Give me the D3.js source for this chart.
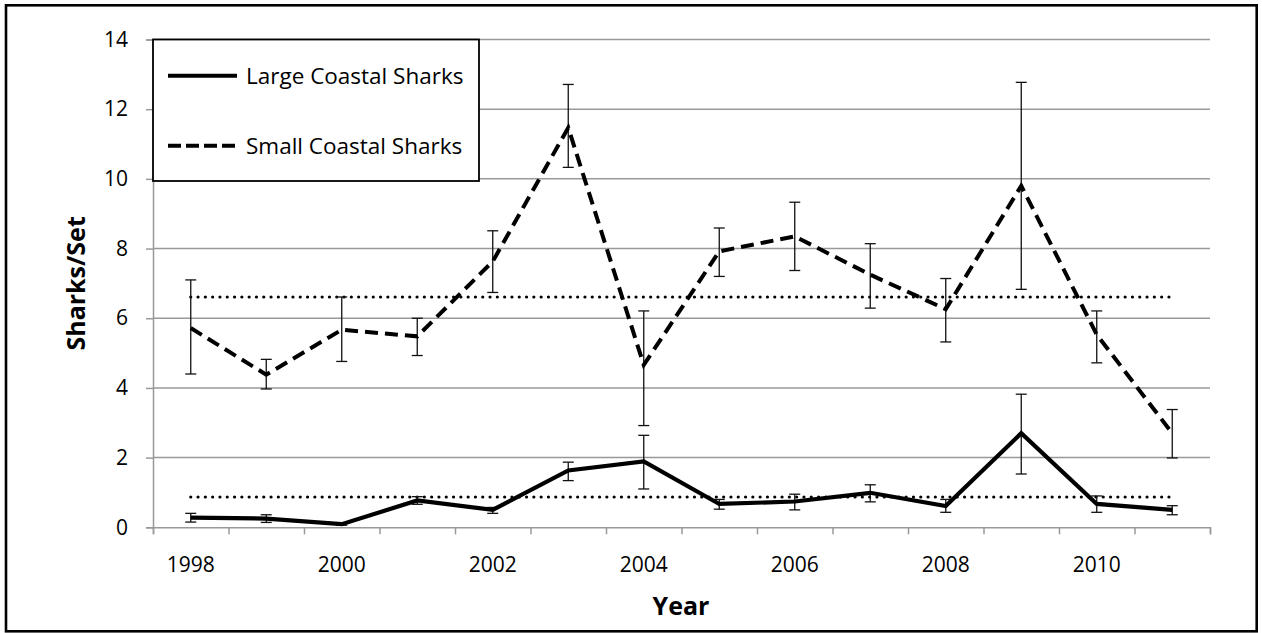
<!DOCTYPE html>
<html>
<head>
<meta charset="utf-8">
<script src="https://cdn.jsdelivr.net/npm/d3@7"></script>
<style>
  body { margin: 0; background: #fff; }
  text { font-family: "Open Sans", sans-serif; fill: #000; }
</style>
</head>
<body>
<div id="chart"></div>
<script>
// values
var years = [1998, 1999, 2000, 2001, 2002, 2003, 2004, 2005, 2006, 2007, 2008, 2009, 2010, 2011];
var largeMean = [0.28, 0.25, 0.09, 0.77, 0.50, 1.63, 1.89, 0.67, 0.74, 0.99, 0.61, 2.70, 0.67, 0.50];
var largeHi   = [0.40, 0.36, 0.12, 0.88, 0.57, 1.87, 2.64, 0.80, 0.95, 1.22, 0.80, 3.82, 0.90, 0.62];
var largeLo   = [0.15, 0.14, 0.06, 0.66, 0.40, 1.34, 1.10, 0.52, 0.50, 0.73, 0.43, 1.53, 0.43, 0.36];
var smallMean = [5.72, 4.38, 5.67, 5.48, 7.63, 11.47, 4.66, 7.92, 8.35, 7.25, 6.26, 9.80, 5.53, 2.70];
var smallHi   = [7.10, 4.82, 6.61, 6.00, 8.51, 12.71, 6.21, 8.59, 9.33, 8.14, 7.14, 12.77, 6.21, 3.38];
var smallLo   = [4.40, 3.97, 4.76, 4.93, 6.74, 10.33, 2.92, 7.20, 7.37, 6.29, 5.32, 6.83, 4.72, 1.99];
var largeAvg = 0.87;
var smallAvg = 6.61;
var yTicks = [0, 2, 4, 6, 8, 10, 12, 14];
var seriesNames = ["Large Coastal Sharks", "Small Coastal Sharks"];

var W = 1262, H = 633;
var pLeft = 153, pRight = 1210, pTop = 39.5, pBottom = 527.3;

var svg = d3.select("#chart").append("svg")
  .attr("width", W)
  .attr("height", H);

// outer frame
svg.append("rect")
  .attr("x", 6).attr("y", 5.3)
  .attr("width", 1250.7).attr("height", 626)
  .attr("fill", "none")
  .attr("stroke", "#000")
  .attr("stroke-width", 2.6);

var x = d3.scaleBand().domain(years).range([pLeft, pRight]).padding(0);
var xEdge = d3.scaleLinear().domain([0, years.length]).range([pLeft, pRight]);
var y = d3.scaleLinear().domain([0, 14]).range([pBottom, pTop]);
var cx = function(i){ return x(years[i]) + x.bandwidth() / 2; };

// gridlines
svg.append("g").selectAll("line").data(yTicks.slice(1)).enter().append("line")
  .attr("x1", pLeft).attr("x2", pRight)
  .attr("y1", function(d){ return y(d); })
  .attr("y2", function(d){ return y(d); })
  .attr("stroke", "#999")
  .attr("stroke-width", 1.5);

// y axis
var yAxis = svg.append("g")
  .attr("transform", "translate(" + pLeft + ",0)")
  .call(d3.axisLeft(y).tickValues(yTicks).tickSize(7).tickPadding(18));
yAxis.selectAll("path, line").attr("stroke", "#999").attr("stroke-width", 1.5);
yAxis.selectAll("text").style("font-size", "21px").style("font-family", "Open Sans").attr("fill", "#000");

// x axis: tick marks between categories
var xTicks = svg.append("g")
  .attr("transform", "translate(0," + pBottom + ")")
  .call(d3.axisBottom(xEdge).tickValues(d3.range(0, years.length + 1)).tickSize(7).tickFormat(""));
xTicks.selectAll("path, line").attr("stroke", "#999").attr("stroke-width", 1.5);

// x axis labels, every other year
var xLabels = svg.append("g")
  .attr("transform", "translate(0," + pBottom + ")")
  .call(d3.axisBottom(x).tickSize(0).tickFormat(function(d){ return d % 2 == 0 ? d : ""; }));
xLabels.select(".domain").remove();
xLabels.selectAll("text")
  .attr("y", 37).attr("dy", "0.35em")
  .style("font-size", "21px").style("font-family", "Open Sans").attr("fill", "#000");

// average lines (dotted)
[largeAvg, smallAvg].forEach(function(v){
  svg.append("line")
    .attr("x1", cx(0)).attr("x2", cx(years.length - 1))
    .attr("y1", y(v)).attr("y2", y(v))
    .attr("stroke", "#000")
    .attr("stroke-width", 3.2)
    .attr("stroke-linecap", "round")
    .attr("stroke-dasharray", "0,7.3");
});

// error bars
function errorBars(lo, hi){
  var g = svg.append("g");
  var idx = d3.range(years.length);
  g.selectAll("line.v").data(idx).enter().append("line")
    .attr("x1", cx).attr("x2", cx)
    .attr("y1", function(i){ return y(hi[i]); })
    .attr("y2", function(i){ return y(lo[i]); })
    .attr("stroke", "#111").attr("stroke-width", 1.3);
  [hi, lo].forEach(function(arr){
    g.selectAll(null).data(idx).enter().append("line")
      .attr("x1", function(i){ return cx(i) - 5.5; })
      .attr("x2", function(i){ return cx(i) + 5.5; })
      .attr("y1", function(i){ return y(arr[i]); })
      .attr("y2", function(i){ return y(arr[i]); })
      .attr("stroke", "#111").attr("stroke-width", 1.3);
  });
}
errorBars(smallLo, smallHi);
errorBars(largeLo, largeHi);

// series lines
var line = d3.line()
  .x(function(d, i){ return cx(i); })
  .y(function(d){ return y(d); });

svg.append("path").datum(smallMean)
  .attr("d", line)
  .attr("fill", "none")
  .attr("stroke", "#000")
  .attr("stroke-width", 4)
  .attr("stroke-dasharray", "13,7");

svg.append("path").datum(largeMean)
  .attr("d", line)
  .attr("fill", "none")
  .attr("stroke", "#000")
  .attr("stroke-width", 4.2)
  .attr("stroke-linejoin", "miter");

// legend
var lg = svg.append("g");
lg.append("rect")
  .attr("x", pLeft).attr("y", pTop)
  .attr("width", 479 - pLeft).attr("height", 181 - pTop)
  .attr("fill", "#fff")
  .attr("stroke", "#000")
  .attr("stroke-width", 1.8);
var legendY = [75.7, 145.7];
seriesNames.forEach(function(name, i){
  lg.append("line")
    .attr("x1", 168).attr("x2", 237)
    .attr("y1", legendY[i]).attr("y2", legendY[i])
    .attr("stroke", "#000")
    .attr("stroke-width", 4)
    .attr("stroke-dasharray", i == 1 ? "13,5" : null);
  lg.append("text")
    .attr("x", 246).attr("y", legendY[i])
    .attr("dy", "0.35em")
    .style("font-size", "22.5px")
    .text(name);
});

// axis titles
svg.append("text")
  .attr("x", 681).attr("y", 606)
  .attr("dy", "0.35em")
  .attr("text-anchor", "middle")
  .style("font-size", "25px").style("font-weight", "bold")
  .text("Year");

svg.append("text")
  .attr("transform", "translate(76," + ((pTop + pBottom) / 2) + ") rotate(-90)")
  .attr("dy", "0.35em")
  .attr("text-anchor", "middle")
  .style("font-size", "25px").style("font-weight", "bold")
  .text("Sharks/Set");
</script>
</body>
</html>
